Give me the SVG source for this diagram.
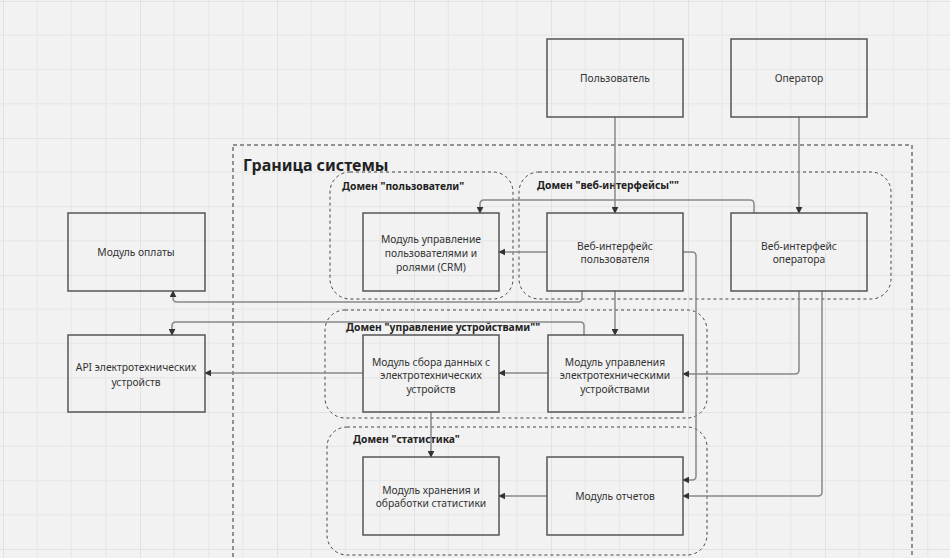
<svg xmlns="http://www.w3.org/2000/svg" width="950" height="558" viewBox="0 0 950 558">
  <defs>
    <pattern id="grid" patternUnits="userSpaceOnUse" x="3" y="1" width="137" height="137">
      <path d="M34.25 0V137M68.5 0V137M102.75 0V137M0 34.25H137M0 68.5H137M0 102.75H137" stroke="#e9e9e9" stroke-width="1.5" fill="none"/>
      <path d="M0 0V137M0 0H137" stroke="#e2e2e2" stroke-width="2" fill="none"/>
    </pattern>
    <marker id="arrow" viewBox="0 0 10 10" refX="9" refY="5" markerWidth="7" markerHeight="7" markerUnits="userSpaceOnUse" orient="auto">
      <path d="M0 0L10 5L0 10z" fill="#333"/>
    </marker>
    <style>
      .node rect { fill: none; stroke: #555; stroke-width: 1.5; }
      .node text { font-family: "Noto Sans", "Open Sans", sans-serif; font-size: 10.3px; fill: #333; text-anchor: middle; }
      .domain rect { fill: none; stroke: #444; stroke-width: 1; stroke-dasharray: 3 3; }
      .domain text { font-family: "Noto Sans", "Open Sans", sans-serif; font-size: 10.3px; font-weight: bold; fill: #222; }
      .edges path { fill: none; stroke: #888; stroke-width: 1.5; marker-end: url(#arrow); }
    </style>
  </defs>

  <!-- canvas -->
  <rect width="950" height="558" fill="#f2f2f2"/>
  <rect width="950" height="558" fill="url(#grid)"/>

  <!-- system boundary -->
  <g id="system-boundary">
    <rect x="233" y="145" width="679" height="430" fill="none" stroke="#333" stroke-width="1" stroke-dasharray="4 3"/>
    <text x="243" y="171" font-family="Noto Sans, Open Sans, sans-serif" font-size="16" font-weight="bold" fill="#222">Граница системы</text>
  </g>

  <!-- domains -->
  <g id="domain-users" class="domain">
    <rect x="330" y="172" width="183" height="127" rx="20"/>
    <text x="342" y="190">Домен "пользователи"</text>
  </g>
  <g id="domain-web" class="domain">
    <rect x="519" y="172" width="372" height="127" rx="20"/>
    <text x="537" y="189">Домен "веб-интерфейсы""</text>
  </g>
  <g id="domain-devices" class="domain">
    <rect x="325" y="310" width="382" height="108" rx="20"/>
    <text x="346" y="331">Домен "управление устройствами""</text>
  </g>
  <g id="domain-stats" class="domain">
    <rect x="327" y="427" width="380" height="128" rx="20"/>
    <text x="353" y="443">Домен "статистика"</text>
  </g>

  <!-- connectors -->
  <g id="connectors" class="edges">
    <path d="M615 117V213"/>
    <path d="M799 117V213"/>
    <path d="M754 213V204Q754 200 750 200H484Q480 200 480 204V213"/>
    <path d="M547 252H499"/>
    <path d="M683 252H692Q696 252 696 256V476Q696 480 692 480H683"/>
    <path d="M582 291V298Q582 302 578 302H177Q173 302 173 298V291"/>
    <path d="M615 291V335"/>
    <path d="M584 335V326Q584 322 580 322H176Q172 322 172 326V335"/>
    <path d="M548 373H499"/>
    <path d="M799 291V370Q799 374 795 374H683"/>
    <path d="M822 291V492Q822 496 818 496H683"/>
    <path d="M363 373H205"/>
    <path d="M431 412V457"/>
    <path d="M547 496H499"/>
  </g>

  <!-- nodes -->
  <g id="user" class="node">
    <rect x="547" y="39" width="136" height="78"/>
    <text x="615" y="82">Пользователь</text>
  </g>
  <g id="operator" class="node">
    <rect x="731" y="39" width="136" height="78"/>
    <text x="799" y="82">Оператор</text>
  </g>
  <g id="crm" class="node">
    <rect x="363" y="213" width="136" height="78"/>
    <text x="431" y="243">Модуль управление</text>
    <text x="431" y="257">пользователями и</text>
    <text x="431" y="271">ролями (CRM)</text>
  </g>
  <g id="web-user" class="node">
    <rect x="547" y="213" width="136" height="78"/>
    <text x="615" y="250">Веб-интерфейс</text>
    <text x="615" y="263">пользователя</text>
  </g>
  <g id="web-operator" class="node">
    <rect x="731" y="213" width="136" height="78"/>
    <text x="799" y="250">Веб-интерфейс</text>
    <text x="799" y="263">оператора</text>
  </g>
  <g id="payment" class="node">
    <rect x="68" y="213" width="137" height="78"/>
    <text x="136" y="256">Модуль оплаты</text>
  </g>
  <g id="device-api" class="node">
    <rect x="68" y="335" width="137" height="77"/>
    <text x="136" y="371">API электротехнических</text>
    <text x="136" y="386">устройств</text>
  </g>
  <g id="data-collector" class="node">
    <rect x="363" y="335" width="136" height="77"/>
    <text x="431" y="366">Модуль сбора данных с</text>
    <text x="431" y="379">электротехнических</text>
    <text x="431" y="393">устройств</text>
  </g>
  <g id="device-control" class="node">
    <rect x="548" y="335" width="135" height="77"/>
    <text x="615" y="366">Модуль управления</text>
    <text x="615" y="379">электротехническими</text>
    <text x="615" y="393">устройствами</text>
  </g>
  <g id="stats-storage" class="node">
    <rect x="363" y="457" width="136" height="78"/>
    <text x="431" y="494">Модуль хранения и</text>
    <text x="431" y="507">обработки статистики</text>
  </g>
  <g id="reports" class="node">
    <rect x="547" y="457" width="136" height="78"/>
    <text x="615" y="500">Модуль отчетов</text>
  </g>
</svg>
